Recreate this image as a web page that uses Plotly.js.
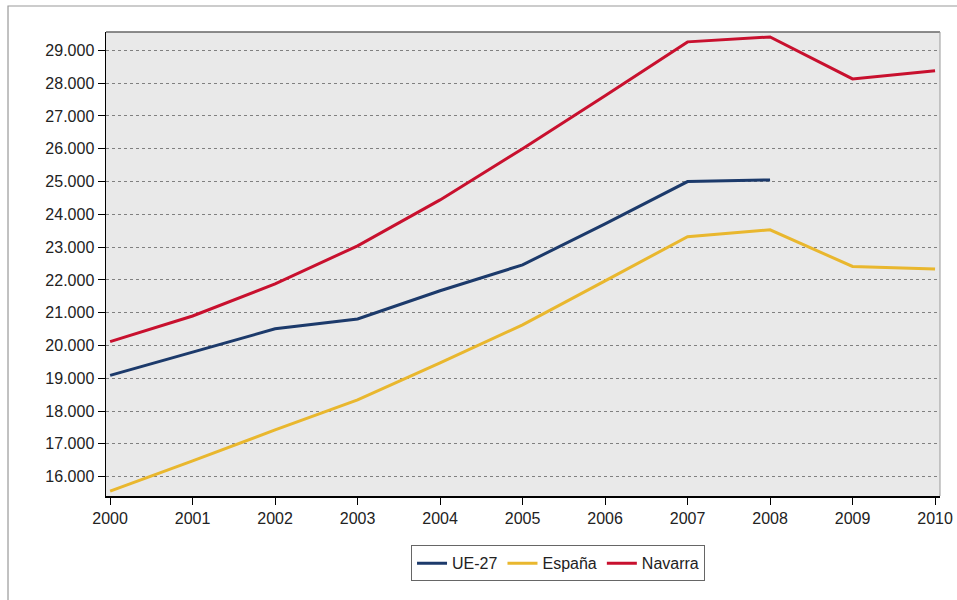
<!DOCTYPE html>
<html>
<head>
<meta charset="utf-8">
<script src="https://cdn.plot.ly/plotly-3.0.1.min.js"></script>
<style>html,body{margin:0;padding:0;background:#fff;}#chart{width:957px;height:600px;}</style>
</head>
<body>
<div id="chart"></div>
<script>
const years = [2000, 2001, 2002, 2003, 2004, 2005, 2006, 2007, 2008, 2009, 2010];
const ue27 = [19090, 19800, 20510, 20810, 21670, 22460, 23710, 25000, 25050, null, null];
const espana = [15560, 16480, 17425, 18340, 19470, 20630, 21970, 23320, 23530, 22410, 22330];
const navarra = [20120, 20900, 21880, 23040, 24440, 26000, 27620, 29260, 29410, 28130, 28380];
const seriesNames = ['UE-27', 'España', 'Navarra'];
const yTicks = [16000, 17000, 18000, 19000, 20000, 21000, 22000, 23000, 24000, 25000, 26000, 27000, 28000, 29000];

const colors = ['#1c3a6b', '#e9b72e', '#c8102e'];
const data = [ue27, espana, navarra].map((vals, i) => ({
  x: years, y: vals, name: seriesNames[i], type: 'scatter', mode: 'lines',
  line: {color: colors[i], width: 3}, connectgaps: false
}));

const layout = {
  width: 957, height: 600,
  margin: {l: 106, r: 17, t: 32, b: 104},
  paper_bgcolor: '#ffffff',
  plot_bgcolor: '#e9e9e9',
  separators: ',.',
  font: {family: 'Liberation Sans, Arial, sans-serif', size: 16, color: '#222'},
  showlegend: true,
  legend: {
    orientation: 'h', x: 0.542, y: -0.145, xanchor: 'center', yanchor: 'middle',
    bgcolor: '#ffffff', bordercolor: '#666', borderwidth: 1,
    font: {size: 16, color: '#222'}, itemwidth: 30, tracegroupgap: 0
  },
  xaxis: {
    range: [1999.95, 2010.06], tickvals: years, ticktext: years.map(String),
    showgrid: false, zeroline: false, showline: true, linecolor: '#000', linewidth: 1.5,
    ticks: 'outside', ticklen: 7, tickcolor: '#000', tickwidth: 1,
    tickfont: {size: 16, color: '#222'}
  },
  yaxis: {
    range: [15411, 29561], tickvals: yTicks, tickformat: ',d',
    showgrid: true, gridcolor: '#808080', gridwidth: 1, griddash: 'dot',
    zeroline: false, showline: true, linecolor: '#000', linewidth: 1.5,
    ticks: 'outside', ticklen: 7, tickcolor: '#000', tickwidth: 1,
    tickfont: {size: 16, color: '#222'}
  },
  shapes: [
    {type: 'line', xref: 'paper', yref: 'paper', x0: 0, x1: 1, y0: 1, y1: 1, line: {color: '#666', width: 1.5}},
    {type: 'line', xref: 'paper', yref: 'paper', x0: 1, x1: 1, y0: 0, y1: 1, line: {color: '#999', width: 1}},
    {type: 'rect', xref: 'paper', yref: 'paper', x0: -0.1175, x1: 1.05, y0: -0.25, y1: 1.056, line: {color: '#999', width: 1.2}, layer: 'below'}
  ]
};

Plotly.newPlot('chart', data, layout, {displayModeBar: false, staticPlot: true});
</script>
</body>
</html>
